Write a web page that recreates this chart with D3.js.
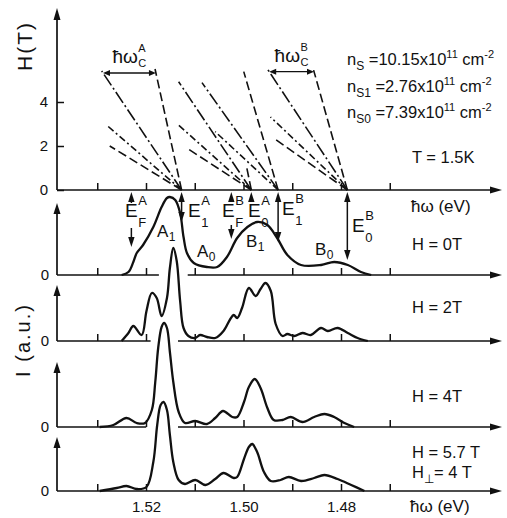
<!DOCTYPE html>
<html>
<head>
<meta charset="utf-8">
<script src="https://cdn.jsdelivr.net/npm/d3@7"></script>
<style>
  body { margin: 0; background: #fff; }
  svg text { font-family: "Liberation Sans", Arial, sans-serif; fill: #111; }
</style>
</head>
<body>
<svg id="chart" width="507" height="518"></svg>
<script>
// ---------------- data ----------------
const energyTicks = [1.53, 1.52, 1.51, 1.50, 1.49, 1.48, 1.47];
const energyLabels = [1.52, 1.50, 1.48];
const fieldTicks = [0, 2, 4];

// Landau fans: E1(A), E0(A), E1(B), E0(B)  (eV at H = 0)
const fanEnergies = [1.5127, 1.4984, 1.4929, 1.4787];
const fermiEnergies = [1.5230, 1.5025]; // E_F(A), E_F(B)
// one entry per fan line
const fanLineFan = [0, 0, 0, 0, 1, 1, 1, 1, 2, 2, 2, 3, 3, 3, 3];
const fanLineN = [0, 1, 2, 3, 0, 1, 2, 3, 0, 1, 2, 0, 1, 2, 3];
const fanLineSlope = [0.99, 3.03, 5.21, 7.37, 0.92, 3.03, 5.06, 6.95, 1.31, 3.20, 4.87, 1.27, 2.98, 4.75, 6.42]; // meV/T
const fanLineHmax = [5.5, 5.41, 2.95, 2.0, 1.05, 4.92, 2.95, 1.9, 5.38, 4.88, 2.65, 5.45, 5.5, 3.32, 2.36]; // T
const cyclotronField = [5.32, 5.38]; // where the hw_c brackets are drawn (fan A, fan B)

// spectra, intensity in arbitrary units
const energyH0 = [1.5250, 1.5236, 1.5226, 1.5219, 1.5206, 1.5185, 1.5168, 1.5157, 1.5151, 1.5140, 1.5130, 1.5123, 1.5116, 1.5102, 1.5075, 1.5054, 1.5034, 1.5013, 1.4992, 1.4972, 1.4951, 1.4931, 1.4910, 1.4882, 1.4841, 1.4814, 1.4786, 1.4759, 1.4738];
const intensityH0 = [0, 0.03, 0.13, 0.22, 0.30, 0.48, 0.68, 0.77, 0.78, 0.75, 0.62, 0.38, 0.22, 0.12, 0.08, 0.08, 0.18, 0.37, 0.48, 0.53, 0.50, 0.37, 0.20, 0.10, 0.10, 0.13, 0.10, 0.03, 0];

const energyH2 = [1.5250, 1.5236, 1.5226, 1.5209, 1.5199, 1.5188, 1.5178, 1.5168, 1.5157, 1.5151, 1.5144, 1.5137, 1.5130, 1.5123, 1.5113, 1.5099, 1.5089, 1.5075, 1.5058, 1.5041, 1.5027, 1.5020, 1.5013, 1.5003, 1.4989, 1.4975, 1.4965, 1.4955, 1.4944, 1.4934, 1.4920, 1.4910, 1.4896, 1.4879, 1.4862, 1.4841, 1.4827, 1.4807, 1.4786, 1.4766, 1.4745];
const intensityH2 = [0, 0.08, 0.15, 0.06, 0.30, 0.48, 0.43, 0.25, 0.43, 0.73, 0.93, 0.80, 0.40, 0.13, 0.05, 0.03, 0.06, 0.04, 0.03, 0.10, 0.22, 0.26, 0.23, 0.33, 0.53, 0.45, 0.52, 0.58, 0.50, 0.17, 0.05, 0.07, 0.05, 0.08, 0.06, 0.13, 0.10, 0.13, 0.08, 0.03, 0];

const energyH4 = [1.5295, 1.5267, 1.5240, 1.5219, 1.5202, 1.5188, 1.5181, 1.5175, 1.5168, 1.5163, 1.5157, 1.5151, 1.5144, 1.5133, 1.5120, 1.5099, 1.5075, 1.5058, 1.5042, 1.5023, 1.5013, 1.4999, 1.4989, 1.4977, 1.4965, 1.4951, 1.4938, 1.4920, 1.4903, 1.4879, 1.4855, 1.4834, 1.4814, 1.4793, 1.4773];
const intensityH4 = [0, 0.02, 0.09, 0.04, 0.04, 0.17, 0.45, 0.79, 1.00, 1.04, 0.99, 0.75, 0.45, 0.15, 0.04, 0.06, 0.03, 0.09, 0.16, 0.10, 0.10, 0.25, 0.40, 0.48, 0.39, 0.19, 0.07, 0.07, 0.10, 0.05, 0.10, 0.13, 0.10, 0.04, 0];

const energyH57 = [1.5295, 1.5260, 1.5240, 1.5219, 1.5199, 1.5185, 1.5177, 1.5170, 1.5164, 1.5157, 1.5151, 1.5144, 1.5133, 1.5120, 1.5099, 1.5078, 1.5058, 1.5041, 1.5020, 1.5013, 1.4999, 1.4989, 1.4982, 1.4972, 1.4958, 1.4944, 1.4924, 1.4907, 1.4882, 1.4855, 1.4834, 1.4807, 1.4779, 1.4752];
const intensityH57 = [0, 0.03, 0.05, 0.02, 0.04, 0.29, 0.66, 0.86, 0.89, 0.81, 0.56, 0.29, 0.11, 0.07, 0.11, 0.06, 0.12, 0.18, 0.13, 0.14, 0.32, 0.44, 0.47, 0.39, 0.19, 0.10, 0.11, 0.14, 0.10, 0.13, 0.16, 0.12, 0.06, 0];

// ---------------- layout ----------------
const ink = "#111";
const svg = d3.select("#chart");
const g = svg.append("g");

const axisX0 = 57, axisX1 = 502;
const x = d3.scaleLinear().domain([1.52, 1.48]).range([146, 341]);
const fanY = d3.scaleLinear().domain([0, 4]).range([190, 102]);
const panelBase = [275, 341, 427, 491];
const panelTop = [203, 285, 362, 437];
const panelY = panelBase.map(b => d3.scaleLinear().domain([0, 1]).range([b, b - 100]));

const spectra = [
  energyH0.map((e, i) => ({ e, v: intensityH0[i] })),
  energyH2.map((e, i) => ({ e, v: intensityH2[i] })),
  energyH4.map((e, i) => ({ e, v: intensityH4[i] })),
  energyH57.map((e, i) => ({ e, v: intensityH57[i] }))
];

const dashByN = ["9,4", "13,3,2,3", "7,3,2,3", "9,4"];

function head(x0, y0, dir, len = 10, hw = 3.5) {
  const p = {
    up: [[x0, y0], [x0 - hw, y0 + len], [x0 + hw, y0 + len]],
    down: [[x0, y0], [x0 - hw, y0 - len], [x0 + hw, y0 - len]],
    right: [[x0, y0], [x0 - len, y0 - hw], [x0 - len, y0 + hw]],
    left: [[x0, y0], [x0 + len, y0 - hw], [x0 + len, y0 + hw]]
  }[dir];
  g.append("path").attr("d", "M" + p.join("L") + "Z").attr("fill", ink);
}

function seg(x1, y1, x2, y2, w = 1.6, dash = null) {
  g.append("line")
    .attr("x1", x1).attr("y1", y1).attr("x2", x2).attr("y2", y2)
    .attr("stroke", ink).attr("stroke-width", w)
    .attr("stroke-dasharray", dash);
}

// text with stacked super/subscript
function label(x0, y0, main, sup, sub, size, small, supDy, subDy) {
  const t = g.append("text").attr("x", x0).attr("y", y0).attr("font-size", size).text(main);
  const w = t.node().getComputedTextLength();
  if (sup) g.append("text").attr("x", x0 + w + 0.5).attr("y", y0 + supDy).attr("font-size", small).text(sup);
  if (sub) g.append("text").attr("x", x0 + w + 0.5).attr("y", y0 + subDy).attr("font-size", small).text(sub);
}

function energyTickAxis(y) {
  const a = g.append("g").attr("transform", `translate(0,${y})`)
    .call(d3.axisBottom(x).tickValues(energyTicks).tickSize(-7).tickFormat(""));
  a.select(".domain").remove();
  a.selectAll("line").attr("stroke", ink).attr("stroke-width", 1.5);
  return a;
}

// ---------------- fan diagram ----------------
seg(axisX0, fanY(0), axisX1 - 9, fanY(0), 1.7);
head(axisX1, fanY(0), "right", 12, 3.5);
seg(axisX0, fanY(0), axisX0, 20, 1.7);
head(axisX0, 8, "up", 12, 3.5);
energyTickAxis(fanY(0));

const fAx = g.append("g").attr("transform", `translate(${axisX0},0)`)
  .call(d3.axisLeft(fanY).tickValues(fieldTicks).tickSize(-7).tickPadding(9).tickFormat(d3.format("d")));
fAx.select(".domain").remove();
fAx.selectAll("line").attr("stroke", ink).attr("stroke-width", 1.5);
fAx.selectAll("text").attr("font-size", 15).attr("fill", ink)
  .attr("font-family", "Liberation Sans, Arial, sans-serif");

// Landau levels move to higher energy (leftwards) with field
const levelEnergy = (i, h) => fanEnergies[fanLineFan[i]] + fanLineSlope[i] * h / 1000;

fanLineFan.forEach((f, i) => {
  const h = fanLineHmax[i];
  seg(x(levelEnergy(i, 0)), fanY(0), x(levelEnergy(i, h)), fanY(h), 1.6, dashByN[fanLineN[i]]);
});

// hw_c brackets between the n = 0 and n = 1 lines
[[0, 0], [3, 1]].forEach(([f, k]) => {
  const h = cyclotronField[k];
  const i0 = fanLineFan.findIndex((ff, j) => ff === f && fanLineN[j] === 0);
  const i1 = fanLineFan.findIndex((ff, j) => ff === f && fanLineN[j] === 1);
  const xa = x(levelEnergy(i1, h));
  const xb = x(levelEnergy(i0, h));
  const yy = fanY(h);
  seg(xa + 6, yy, xb - 6, yy, 1.4);
  head(xa, yy, "left", 7, 3);
  head(xb, yy, "right", 7, 3);
  label((xa + xb) / 2 - 17, yy - 10, "ħω", k === 0 ? "A" : "B", "C", 19, 11, -11, 4);
});

g.append("text").attr("transform", "translate(32,46) rotate(-90)")
  .attr("text-anchor", "middle").attr("font-size", 21).attr("letter-spacing", 2).text("H(T)");

function nsLine(y0, sub, val) {
  const t = g.append("text").attr("x", 347).attr("y", y0).attr("font-size", 16.5);
  t.append("tspan").text("n");
  t.append("tspan").attr("font-size", 12).attr("dy", 5).text(sub);
  t.append("tspan").attr("dy", -5).text(" =" + val + "x10");
  t.append("tspan").attr("font-size", 11).attr("dy", -7).text("11");
  t.append("tspan").attr("dy", 7).text(" cm");
  t.append("tspan").attr("font-size", 11).attr("dy", -7).text("-2");
}
nsLine(65, "S", "10.15");
nsLine(92, "S1", "2.76");
nsLine(118, "S0", "7.39");
g.append("text").attr("x", 412).attr("y", 163).attr("font-size", 16.5).text("T = 1.5K");
g.append("text").attr("x", 411).attr("y", 212).attr("font-size", 17).text("ħω (eV)");

// ---------------- spectra ----------------
const line = (k) => d3.line()
  .x(d => x(d.e)).y(d => panelY[k](d.v))
  .curve(d3.curveCatmullRom.alpha(0.5));

panelBase.forEach((b, k) => {
  // break the baseline where the next spectrum pokes through it
  let gap = null;
  if (k < 3) {
    const above = spectra[k + 1].filter(d => panelY[k + 1](d.v) < b).map(d => x(d.e));
    if (above.length) gap = [d3.min(above) - 11, d3.max(above) + 11];
  }
  if (gap) {
    seg(axisX0, b, gap[0], b, 1.7);
    seg(gap[1], b, axisX1 - 9, b, 1.7);
  } else {
    seg(axisX0, b, axisX1 - 9, b, 1.7);
  }
  head(axisX1, b, "right", 12, 3.5);
  const t = energyTickAxis(b);
  if (gap) t.selectAll(".tick").filter(d => x(d) > gap[0] && x(d) < gap[1]).remove();

  seg(axisX0, b, axisX0, panelTop[k] + 8, 1.7);
  head(axisX0, panelTop[k], "up", 11, 3.5);
  const ya = g.append("g").attr("transform", `translate(${axisX0},0)`)
    .call(d3.axisLeft(panelY[k]).tickValues([0]).tickSize(0).tickPadding(8).tickFormat(d3.format("d")));
  ya.select(".domain").remove();
  ya.selectAll("text").attr("font-size", 15).attr("fill", ink)
    .attr("font-family", "Liberation Sans, Arial, sans-serif");

  g.append("path").datum(spectra[k]).attr("d", line(k))
    .attr("fill", "none").attr("stroke", ink).attr("stroke-width", 2.3)
    .attr("stroke-linejoin", "round");
});

const lab = g.append("g").attr("transform", `translate(0,${panelBase[3]})`)
  .call(d3.axisBottom(x).tickValues(energyLabels).tickSize(0).tickPadding(10).tickFormat(d3.format(".2f")));
lab.select(".domain").remove();
lab.selectAll("text").attr("font-size", 15).attr("fill", ink)
  .attr("font-family", "Liberation Sans, Arial, sans-serif");
g.append("text").attr("x", 410).attr("y", 512).attr("font-size", 17).text("ħω (eV)");

g.append("text").attr("transform", "translate(30,340) rotate(-90)")
  .attr("text-anchor", "middle").attr("font-size", 20).attr("letter-spacing", 2).text("I (a.u.)");

// field labels
g.append("text").attr("x", 412).attr("y", 250).attr("font-size", 16.5).text("H = 0T");
g.append("text").attr("x", 412).attr("y", 313).attr("font-size", 16.5).text("H = 2T");
g.append("text").attr("x", 412).attr("y", 402).attr("font-size", 16.5).text("H = 4T");
g.append("text").attr("x", 412).attr("y", 458).attr("font-size", 16.5).text("H = 5.7 T");
label(412, 478, "H", null, "⊥", 16.5, 12, 0, 5);
g.append("text").attr("x", 434).attr("y", 478).attr("font-size", 16.5).text("= 4 T");

// energy markers on the H = 0 spectrum
const yTop = fanY(0) + 2;
function eArrow(e, bottom, up, down, gap) {
  const xx = x(e);
  const y1 = up ? yTop + 9 : yTop;
  const y2 = down ? bottom - 9 : bottom;
  if (gap) {
    seg(xx, y1, xx, gap[0], 1.5);
    seg(xx, gap[1], xx, y2, 1.5);
  } else {
    seg(xx, y1, xx, y2, 1.5);
  }
  if (up) head(xx, yTop, "up", 10, 3.2);
  if (down) head(xx, bottom, "down", 10, 3.2);
}
eArrow(fermiEnergies[0], 247, true, true, [203, 228]);
eArrow(fanEnergies[0], 222, true, true);
eArrow(fermiEnergies[1], 239, true, true, [201, 225]);
eArrow(fanEnergies[1], 200, true, false);
eArrow(fanEnergies[2], 242, true, true);
eArrow(fanEnergies[3], 260, true, true);

label(125, 217, "E", "A", "F", 19, 13, -12, 10);
label(188, 217, "E", "A", "1", 19, 13, -12, 10);
label(222, 217, "E", "B", "F", 19, 13, -12, 10);
label(248, 217, "E", "A", "0", 19, 13, -12, 10);
label(282, 215, "E", "B", "1", 19, 13, -12, 10);
label(352, 232, "E", "B", "0", 19, 13, -12, 10);

label(157, 237, "A", null, "1", 17, 12, 0, 4);
label(197, 257, "A", null, "0", 17, 12, 0, 4);
label(246, 247, "B", null, "1", 17, 12, 0, 4);
label(315, 255, "B", null, "0", 17, 12, 0, 4);
</script>
</body>
</html>
